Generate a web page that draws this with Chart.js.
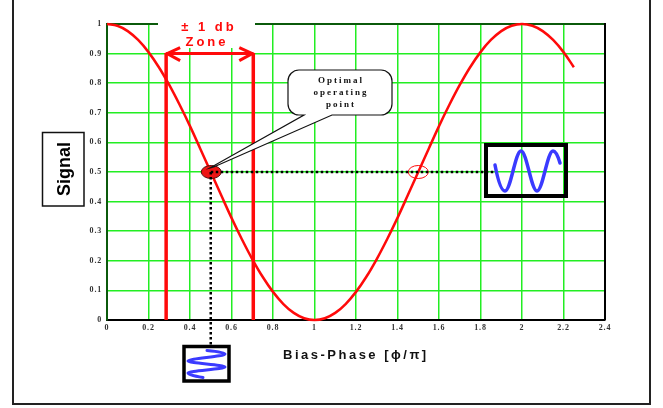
<!DOCTYPE html>
<html>
<head>
<meta charset="utf-8">
<script src="https://cdn.jsdelivr.net/npm/chart.js@4/dist/chart.umd.min.js"></script>
<style>
  html, body { margin: 0; padding: 0; background: #fff; }
  canvas { display: block; }
</style>
</head>
<body>
<canvas id="chart" width="663" height="408"></canvas>
<script>
// values
const phase = [0, 0.05, 0.1, 0.15, 0.2, 0.25, 0.3, 0.35, 0.4, 0.45, 0.5, 0.55, 0.6, 0.65, 0.7,
  0.75, 0.8, 0.85, 0.9, 0.95, 1.0, 1.05, 1.1, 1.15, 1.2, 1.25, 1.3, 1.35, 1.4, 1.45, 1.5,
  1.55, 1.6, 1.65, 1.7, 1.75, 1.8, 1.85, 1.9, 1.95, 2.0, 2.05, 2.1, 2.15, 2.2, 2.25];
const signal = [1, 0.994, 0.976, 0.946, 0.905, 0.854, 0.794, 0.727, 0.655, 0.578, 0.5,
  0.422, 0.345, 0.273, 0.206, 0.146, 0.095, 0.054, 0.024, 0.006, 0,
  0.006, 0.024, 0.054, 0.095, 0.146, 0.206, 0.273, 0.345, 0.422, 0.5,
  0.578, 0.655, 0.727, 0.794, 0.854, 0.905, 0.946, 0.976, 0.994, 1,
  0.994, 0.976, 0.946, 0.905, 0.854];

const zoneEdges = [0.285, 0.705];
const zoneTop = 0.9;
const optimalPoint = { x: 0.5, y: 0.5 };
const mirrorPoint = { x: 1.5, y: 0.5 };

const xTickLabels = ["0", "0.2", "0.4", "0.6", "0.8", "1", "1.2", "1.4", "1.6", "1.8", "2", "2.2", "2.4"];
const yTickLabels = ["0", "0.1", "0.2", "0.3", "0.4", "0.5", "0.6", "0.7", "0.8", "0.9", "1"];

const RED = "#ff0a0a";
const GRID = "#22ee22";
const DARK_GREEN = "#0b5a0b";
const BLUE = "#3a3aff";

// sine-ish wave through extrema, tangent flat at each extremum
function waveH(ctx, pts) {
  ctx.moveTo(pts[0][0], pts[0][1]);
  ctx.quadraticCurveTo(pts[0][0] + (pts[1][0] - pts[0][0]) * 0.5, pts[1][1], pts[1][0], pts[1][1]);
  for (let i = 1; i < pts.length - 2; i++) {
    const a = pts[i], b = pts[i + 1], dx = b[0] - a[0];
    ctx.bezierCurveTo(a[0] + dx * 0.36, a[1], b[0] - dx * 0.36, b[1], b[0], b[1]);
  }
  const a = pts[pts.length - 2], b = pts[pts.length - 1];
  ctx.quadraticCurveTo(a[0] + (b[0] - a[0]) * 0.5, a[1], b[0], b[1]);
}

function waveV(ctx, pts) {
  ctx.moveTo(pts[0][0], pts[0][1]);
  ctx.quadraticCurveTo(pts[1][0], pts[0][1] + (pts[1][1] - pts[0][1]) * 0.5, pts[1][0], pts[1][1]);
  for (let i = 1; i < pts.length - 2; i++) {
    const a = pts[i], b = pts[i + 1], dy = b[1] - a[1];
    ctx.bezierCurveTo(a[0], a[1] + dy * 0.36, b[0], b[1] - dy * 0.36, b[0], b[1]);
  }
  const a = pts[pts.length - 2], b = pts[pts.length - 1];
  ctx.quadraticCurveTo(a[0], a[1] + (b[1] - a[1]) * 0.5, b[0], b[1]);
}

const decor = {
  id: "decor",
  beforeDraw(chart) {
    const ctx = chart.ctx;
    ctx.save();
    ctx.fillStyle = "#fff";
    ctx.fillRect(0, 0, chart.width, chart.height);
    ctx.strokeStyle = "#222";
    ctx.lineWidth = 2;
    ctx.strokeRect(13, -5, 637, 409);
    ctx.restore();
    ctx.letterSpacing = "0.8px";
  },
  beforeDatasetsDraw(chart) {
    const ctx = chart.ctx;
    const a = chart.chartArea;
    ctx.letterSpacing = "0px";
    ctx.save();
    // white gap behind the zone title
    ctx.fillStyle = "#fff";
    ctx.fillRect(158, a.top - 4, 97, 28);
    // top and right frame of plot
    ctx.strokeStyle = DARK_GREEN;
    ctx.lineWidth = 2;
    ctx.beginPath();
    ctx.moveTo(a.left, a.top); ctx.lineTo(158, a.top);
    ctx.moveTo(255, a.top); ctx.lineTo(a.right, a.top);
    ctx.stroke();
    ctx.strokeStyle = "#000";
    ctx.beginPath();
    ctx.moveTo(a.right, a.top - 1); ctx.lineTo(a.right, a.bottom);
    ctx.stroke();
    ctx.restore();
  },
  afterDatasetsDraw(chart) {
    const ctx = chart.ctx;
    const xs = chart.scales.x, ys = chart.scales.y;
    ctx.save();

    // arrowheads of the zone
    const yT = ys.getPixelForValue(zoneTop);
    const xl = xs.getPixelForValue(zoneEdges[0]);
    const xr = xs.getPixelForValue(zoneEdges[1]);
    ctx.strokeStyle = RED;
    ctx.lineWidth = 3;
    ctx.lineCap = "butt";
    ctx.beginPath();
    ctx.moveTo(xl + 14, yT - 6); ctx.lineTo(xl + 1, yT); ctx.lineTo(xl + 14, yT + 7);
    ctx.moveTo(xr - 14, yT - 6); ctx.lineTo(xr - 1, yT); ctx.lineTo(xr - 14, yT + 7);
    ctx.stroke();

    // zone title
    ctx.fillStyle = RED;
    ctx.font = 'bold 13px "Liberation Sans", Arial, sans-serif';
    ctx.letterSpacing = "3px";
    ctx.textAlign = "center";
    ctx.textBaseline = "middle";
    ctx.fillText("\u00b1 1 db", 209, 27);
    ctx.fillText("Zone", 207, 42);

    // optimal operating point
    const px = xs.getPixelForValue(optimalPoint.x);
    const py = ys.getPixelForValue(optimalPoint.y);
    ctx.beginPath();
    ctx.ellipse(px + 0.5, py, 10, 6.5, 0, 0, Math.PI * 2);
    ctx.fillStyle = "#ee1515";
    ctx.fill();
    ctx.strokeStyle = "#5a0a0a";
    ctx.lineWidth = 1;
    ctx.stroke();

    // mirror point
    const mx = xs.getPixelForValue(mirrorPoint.x);
    const my = ys.getPixelForValue(mirrorPoint.y);
    ctx.beginPath();
    ctx.ellipse(mx, my, 10, 6.5, 0, 0, Math.PI * 2);
    ctx.strokeStyle = RED;
    ctx.lineWidth = 1;
    ctx.stroke();

    // dotted guides
    ctx.strokeStyle = "#000";
    ctx.lineWidth = 2.5;
    ctx.setLineDash([2.5, 2.5]);
    ctx.beginPath();
    ctx.moveTo(px, py); ctx.lineTo(495, py);
    ctx.moveTo(px, py); ctx.lineTo(px, 347);
    ctx.stroke();
    ctx.setLineDash([]);

    // output box on the right
    ctx.lineWidth = 4;
    ctx.strokeRect(486, 145, 80, 51);
    ctx.strokeStyle = BLUE;
    ctx.lineWidth = 3.5;
    ctx.lineCap = "round";
    ctx.beginPath();
    waveH(ctx, [[495, 165], [505, 191], [521, 151], [537, 191], [553, 151], [560, 163]]);
    ctx.stroke();

    // input box below
    ctx.strokeStyle = "#000";
    ctx.lineWidth = 3.5;
    ctx.lineCap = "butt";
    ctx.strokeRect(184, 346.5, 45, 34.5);
    ctx.strokeStyle = BLUE;
    ctx.lineWidth = 3;
    ctx.lineCap = "round";
    ctx.beginPath();
    waveV(ctx, [[207, 350.5], [225, 354], [188, 361], [225, 367], [188, 373], [203, 377.5]]);
    ctx.stroke();

    // callout
    const L = 288, R = 392, T = 70, B = 115, r = 11;
    ctx.beginPath();
    ctx.moveTo(332, B);
    ctx.arcTo(R, B, R, T, r);
    ctx.arcTo(R, T, L, T, r);
    ctx.arcTo(L, T, L, B, r);
    ctx.arcTo(L, B, R, B, r);
    ctx.lineTo(304, B);
    ctx.lineTo(px - 1, py - 4);
    ctx.lineTo(px + 3, py - 5);
    ctx.closePath();
    ctx.fillStyle = "#fff";
    ctx.fill();
    ctx.strokeStyle = "#111";
    ctx.lineWidth = 1.2;
    ctx.lineCap = "butt";
    ctx.stroke();
    ctx.fillStyle = "#111";
    ctx.font = 'bold 9px "Liberation Serif", "Times New Roman", serif';
    ctx.letterSpacing = "2px";
    ctx.textAlign = "center";
    ctx.fillText("Optimal", 341, 81);
    ctx.fillText("operating", 341, 93);
    ctx.fillText("point", 341, 105);

    // y axis title
    ctx.letterSpacing = "0px";
    ctx.strokeStyle = "#111";
    ctx.lineWidth = 1.5;
    ctx.strokeRect(42.5, 132.5, 41.5, 73.5);
    ctx.save();
    ctx.translate(64, 169);
    ctx.rotate(-Math.PI / 2);
    ctx.fillStyle = "#000";
    ctx.font = 'bold 18px "Liberation Sans", Arial, sans-serif';
    ctx.fillText("Signal", 0, 1);
    ctx.restore();

    // x axis title
    ctx.fillStyle = "#111";
    ctx.font = 'bold 13px "Liberation Sans", Arial, sans-serif';
    ctx.letterSpacing = "2.5px";
    ctx.textAlign = "left";
    ctx.fillText("Bias-Phase [\u03d5/\u03c0]", 283, 355);

    ctx.restore();
  }
};

const tickFont = { family: '"Liberation Serif", "Times New Roman", serif', size: 8, weight: "bold" };

new Chart(document.getElementById("chart"), {
  type: "line",
  data: {
    datasets: [
      {
        data: phase.map((x, i) => ({ x, y: signal[i] })),
        borderColor: RED,
        borderWidth: 2.5,
        pointRadius: 0,
        tension: 0.4,
        clip: 4
      },
      {
        data: [{ x: zoneEdges[0], y: 0 }, { x: zoneEdges[0], y: zoneTop }],
        borderColor: RED,
        borderWidth: 3.5,
        pointRadius: 0
      },
      {
        data: [{ x: zoneEdges[1], y: 0 }, { x: zoneEdges[1], y: zoneTop }],
        borderColor: RED,
        borderWidth: 3.5,
        pointRadius: 0
      },
      {
        data: [{ x: zoneEdges[0], y: zoneTop }, { x: zoneEdges[1], y: zoneTop }],
        borderColor: RED,
        borderWidth: 3,
        pointRadius: 0
      }
    ]
  },
  options: {
    responsive: false,
    animation: false,
    devicePixelRatio: 1,
    layout: { padding: { left: 0, top: 24, right: 58, bottom: 0 } },
    plugins: { legend: { display: false }, tooltip: { enabled: false } },
    scales: {
      x: {
        type: "linear",
        min: 0,
        max: 2.4,
        afterFit: (s) => { s.height = 88; },
        ticks: {
          stepSize: 0.2,
          padding: 3,
          font: tickFont,
          color: "#333",
          maxRotation: 0,
          callback: (v, i) => xTickLabels[i]
        },
        grid: { color: GRID, lineWidth: 1.5, drawTicks: false },
        border: { color: "#000", width: 2 }
      },
      y: {
        type: "linear",
        min: 0,
        max: 1,
        afterFit: (s) => { s.width = 107; },
        ticks: {
          stepSize: 0.1,
          padding: 5,
          font: tickFont,
          color: "#333",
          callback: (v, i) => yTickLabels[i]
        },
        grid: { color: GRID, lineWidth: 1.5, drawTicks: false },
        border: { color: DARK_GREEN, width: 2 }
      }
    }
  },
  plugins: [decor]
});
</script>
</body>
</html>
